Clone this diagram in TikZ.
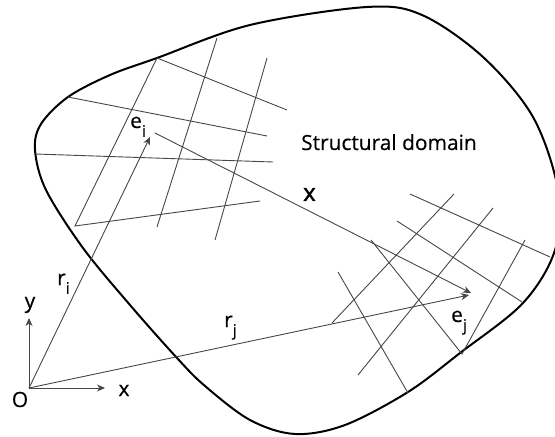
\documentclass[tikz,border=0pt]{standalone}
\usepackage{fontspec}
\setmainfont{Open Sans}[FakeBold=0.4]
\newfontfamily\boldx{Open Sans}[FakeBold=1.8]
\usetikzlibrary{arrows.meta}
\newcommand\lsub[1]{\raisebox{-0.42em}{\fontsize{16}{16}\selectfont #1}}
\begin{document}
\begin{tikzpicture}[x=1bp,y=-1bp,
  boundary/.style={line width=2bp, draw=black, line join=round},
  gridline/.style={line width=0.9bp, draw=black!72},
  vec/.style={line width=0.9bp, draw=black!72, -{Stealth[length=8bp,width=7bp,inset=2.5bp]}},
  lbl/.style={font=\fontsize{21}{25}\selectfont, inner sep=0pt, text=black, anchor=base west}]
\useasboundingbox (0,0) rectangle (555,437);
\clip (0,0) rectangle (555,437);
% domain boundary
\draw[boundary] plot[smooth cycle, tension=0.55] coordinates {
  (35,150) (41,124) (68,97) (110,75) (157,58) (250,25) (367,7) (422,15)
  (483,57) (533,117) (558,190) (555,250) (523,303) (460,353) (408,392)
  (345,425) (295,434) (250,420) (205,386) (177,358) (130,305) (83,248) (46,190)};
% left grid
\coordinate (a1) at (157,58);  \coordinate (a2) at (75,226);
\coordinate (b1) at (217,38);  \coordinate (b2) at (157,227);
\coordinate (c1) at (267,58);  \coordinate (c2) at (215,240);
\coordinate (h1) at (287,110);
\coordinate (h2a) at (68,97);  \coordinate (h2b) at (267,136);
\coordinate (h3a) at (35,154); \coordinate (h3b) at (273,162);
\coordinate (h4) at (260,201);
\draw[gridline] (a1) -- (a2) -- (h4);
\draw[gridline] (a1) -- (h1);
\draw[gridline] (b1) -- (b2);
\draw[gridline] (c1) -- (c2);
\draw[gridline] (h2a) -- (h2b);
\draw[gridline] (h3a) -- (h3b);
% right grid
\coordinate (r1a) at (332,323); \coordinate (r1b) at (454,194);
\coordinate (r2a) at (358,375); \coordinate (r2b) at (493,208);
\coordinate (r3a) at (462,354); \coordinate (r3b) at (525,240);
\coordinate (d1a) at (410,194); \coordinate (d1b) at (550,257);
\coordinate (d2a) at (397,221); \coordinate (d2b) at (522,302);
\coordinate (d3a) at (371,240);
\coordinate (d4a) at (338,272); \coordinate (d4b) at (408,393);
\draw[gridline] (r1a) -- (r1b);
\draw[gridline] (r2a) -- (r2b);
\draw[gridline] (d3a) -- (r3a) -- (r3b);
\draw[gridline] (d1a) -- (d1b);
\draw[gridline] (d2a) -- (d2b);
\draw[gridline] (d4a) -- (d4b);
% vectors
\coordinate (O) at (29,388);
\coordinate (yt) at (29,318);
\coordinate (xt) at (105,388);
\coordinate (ti) at (150,137);
\coordinate (xs) at (155,133);
\coordinate (tx) at (471,293);
\coordinate (tj) at (469,295);
\draw[vec] (O) -- (yt);
\draw[vec] (O) -- (xt);
\draw[vec] (O) -- (ti);
\draw[vec] (O) -- (tj);
\draw[vec] (xs) -- (tx);
% labels
\node[lbl] (ei) at (130,128) {e\lsub{i}};
\node[lbl] (ej) at (451,322) {e\lsub{j}};
\node[lbl] (ri) at (57,285) {r\lsub{i}};
\node[lbl] (rj) at (224,327) {r\lsub{j}};
\node[lbl, font=\fontsize{24}{28}\selectfont\boldx] (xl) at (303,201) {x};
\node[lbl] (sd) at (301,150) {Structural domain};
\node[lbl, anchor=base] (yl) at (30,308) {y};
\node[lbl, anchor=base] (xa) at (124,396) {x};
\node[lbl, anchor=base] (ol) at (20,407) {O};
\end{tikzpicture}
\end{document}
